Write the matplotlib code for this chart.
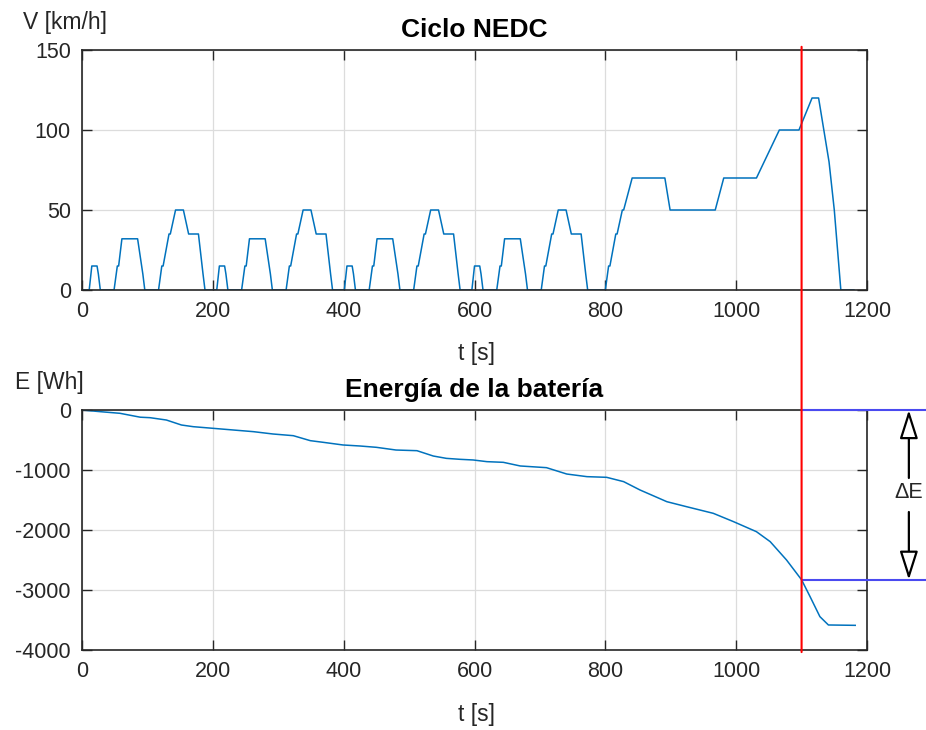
import matplotlib
matplotlib.use('Agg')
import matplotlib.pyplot as plt
from matplotlib.patches import ConnectionPatch

plt.rcParams['font.family'] = ['Liberation Sans', 'DejaVu Sans']
plt.rcParams['axes.unicode_minus'] = False

# NEDC speed profile: 4x ECE-15 + EUDC
t_v = [0, 11, 15, 23, 25, 28, 49, 54, 56, 61, 85, 93, 96, 117, 122, 124, 133, 135, 143, 155, 163, 176, 178, 185, 188,
       195, 206, 210, 218, 220, 223, 244, 249, 251, 256, 280, 288, 291, 312, 317, 319, 328, 330, 338, 350, 358, 371, 373, 380, 383,
       390, 401, 405, 413, 415, 418, 439, 444, 446, 451, 475, 483, 486, 507, 512, 514, 523, 525, 533, 545, 553, 566, 568, 575, 578,
       585, 596, 600, 608, 610, 613, 634, 639, 641, 646, 670, 678, 681, 702, 707, 709, 718, 720, 728, 740, 748, 761, 763, 770, 773,
       780, 800, 805, 807, 816, 818, 826, 828, 841, 891, 899, 968, 981, 1031, 1066, 1096, 1116, 1126, 1142, 1150, 1160, 1180]
v_kmh = [0, 0, 15, 15, 10, 0, 0, 15, 15, 32, 32, 10, 0, 0, 15, 15, 35, 35, 50, 50, 35, 35, 35, 10, 0,
         0, 0, 15, 15, 10, 0, 0, 15, 15, 32, 32, 10, 0, 0, 15, 15, 35, 35, 50, 50, 35, 35, 35, 10, 0,
         0, 0, 15, 15, 10, 0, 0, 15, 15, 32, 32, 10, 0, 0, 15, 15, 35, 35, 50, 50, 35, 35, 35, 10, 0,
         0, 0, 15, 15, 10, 0, 0, 15, 15, 32, 32, 10, 0, 0, 15, 15, 35, 35, 50, 50, 35, 35, 35, 10, 0,
         0, 0, 15, 15, 35, 35, 50, 50, 70, 70, 50, 50, 70, 70, 100, 100, 120, 120, 80, 50, 0, 0]

# battery energy
t_e = [0, 28, 58, 89, 104, 129, 152, 170, 201, 231, 262, 292, 323, 349, 369, 399, 425, 450, 480, 512,
       537, 557, 578, 598, 619, 644, 670, 710, 741, 772, 802, 828, 853, 873, 894, 924, 965, 996,
       1031, 1052, 1077, 1100, 1113, 1128, 1141, 1182]
e_wh = [0, -28, -55, -120, -128, -167, -250, -278, -306, -333, -361, -400, -428, -511, -539, -583, -600, -622, -667, -678,
        -767, -806, -822, -833, -861, -872, -933, -961, -1067, -1111, -1122, -1194, -1333, -1428, -1528, -1611, -1722, -1861,
        -2028, -2194, -2500, -2830, -3111, -3444, -3583, -3589]

t_mark = 1100
e_levels = [0, -2830]

dark = '#262626'
fig = plt.figure(figsize=(9.26, 7.3), dpi=100)
ax1 = fig.add_axes([82 / 926, 440 / 730, 785 / 926, 240 / 730])
ax2 = fig.add_axes([82 / 926, 80 / 730, 785 / 926, 240 / 730])

for ax in (ax1, ax2):
    ax.set_xlim(0, 1200)
    ax.set_xticks([0, 200, 400, 600, 800, 1000, 1200])
    ax.grid(True, color='#dcdcdc', lw=0.9)
    ax.set_axisbelow(True)
    ax.tick_params(direction='in', top=True, right=True, length=7, width=1,
                   colors=dark, labelsize=15.5, pad=8)
    for s in ax.spines.values():
        s.set_color(dark)
        s.set_linewidth(1.2)

ax1.plot(t_v, v_kmh, color='#0072BD', lw=1.1)
ax1.set_ylim(0, 150)
ax1.set_yticks([0, 50, 100, 150])

ax2.plot(t_e, e_wh, color='#0072BD', lw=1.1)
ax2.set_ylim(-4000, 0)
ax2.set_yticks([-4000, -3000, -2000, -1000, 0])

# blue reference lines
for lev in e_levels:
    ax2.plot([t_mark, 1300], [lev, lev], color='#4a4af0', lw=1.5, clip_on=False, zorder=5)

# red vertical line through both plots
con = ConnectionPatch(xyA=(t_mark, 152), coordsA=ax1.transData,
                      xyB=(t_mark, -4035), coordsB=ax2.transData,
                      color='red', lw=1.5, zorder=10)
fig.add_artist(con)

# delta E arrows
arr = dict(arrowstyle='-|>,head_length=1.1,head_width=0.35', mutation_scale=16,
           fc='white', ec='black', lw=1.6, shrinkA=0, shrinkB=0)
ax2.annotate('', xy=(1264, e_levels[0]), xytext=(1264, -1133), arrowprops=arr, annotation_clip=False)
ax2.annotate('', xy=(1264, e_levels[1]), xytext=(1264, -1700), arrowprops=arr, annotation_clip=False)
ax2.text(1264, -1383, 'ΔE', ha='center', va='center', fontsize=15.5, color=dark, clip_on=False)

# titles and labels
fig.text(474 / 926, 1 - 30 / 730, 'Ciclo NEDC', ha='center', va='center', fontsize=19, fontweight='bold')
fig.text(474 / 926, 1 - 390 / 730, 'Energía de la batería', ha='center', va='center', fontsize=19, fontweight='bold')
fig.text(23 / 926, 1 - 22 / 730, 'V [km/h]', ha='left', va='center', fontsize=16.5, color=dark)
fig.text(15 / 926, 1 - 383 / 730, 'E [Wh]', ha='left', va='center', fontsize=16.5, color=dark)
fig.text(476 / 926, 1 - 353 / 730, 't [s]', ha='center', va='center', fontsize=16.5, color=dark)
fig.text(476 / 926, 1 - 714 / 730, 't [s]', ha='center', va='center', fontsize=16.5, color=dark)

fig.savefig('out.png', dpi=100)
